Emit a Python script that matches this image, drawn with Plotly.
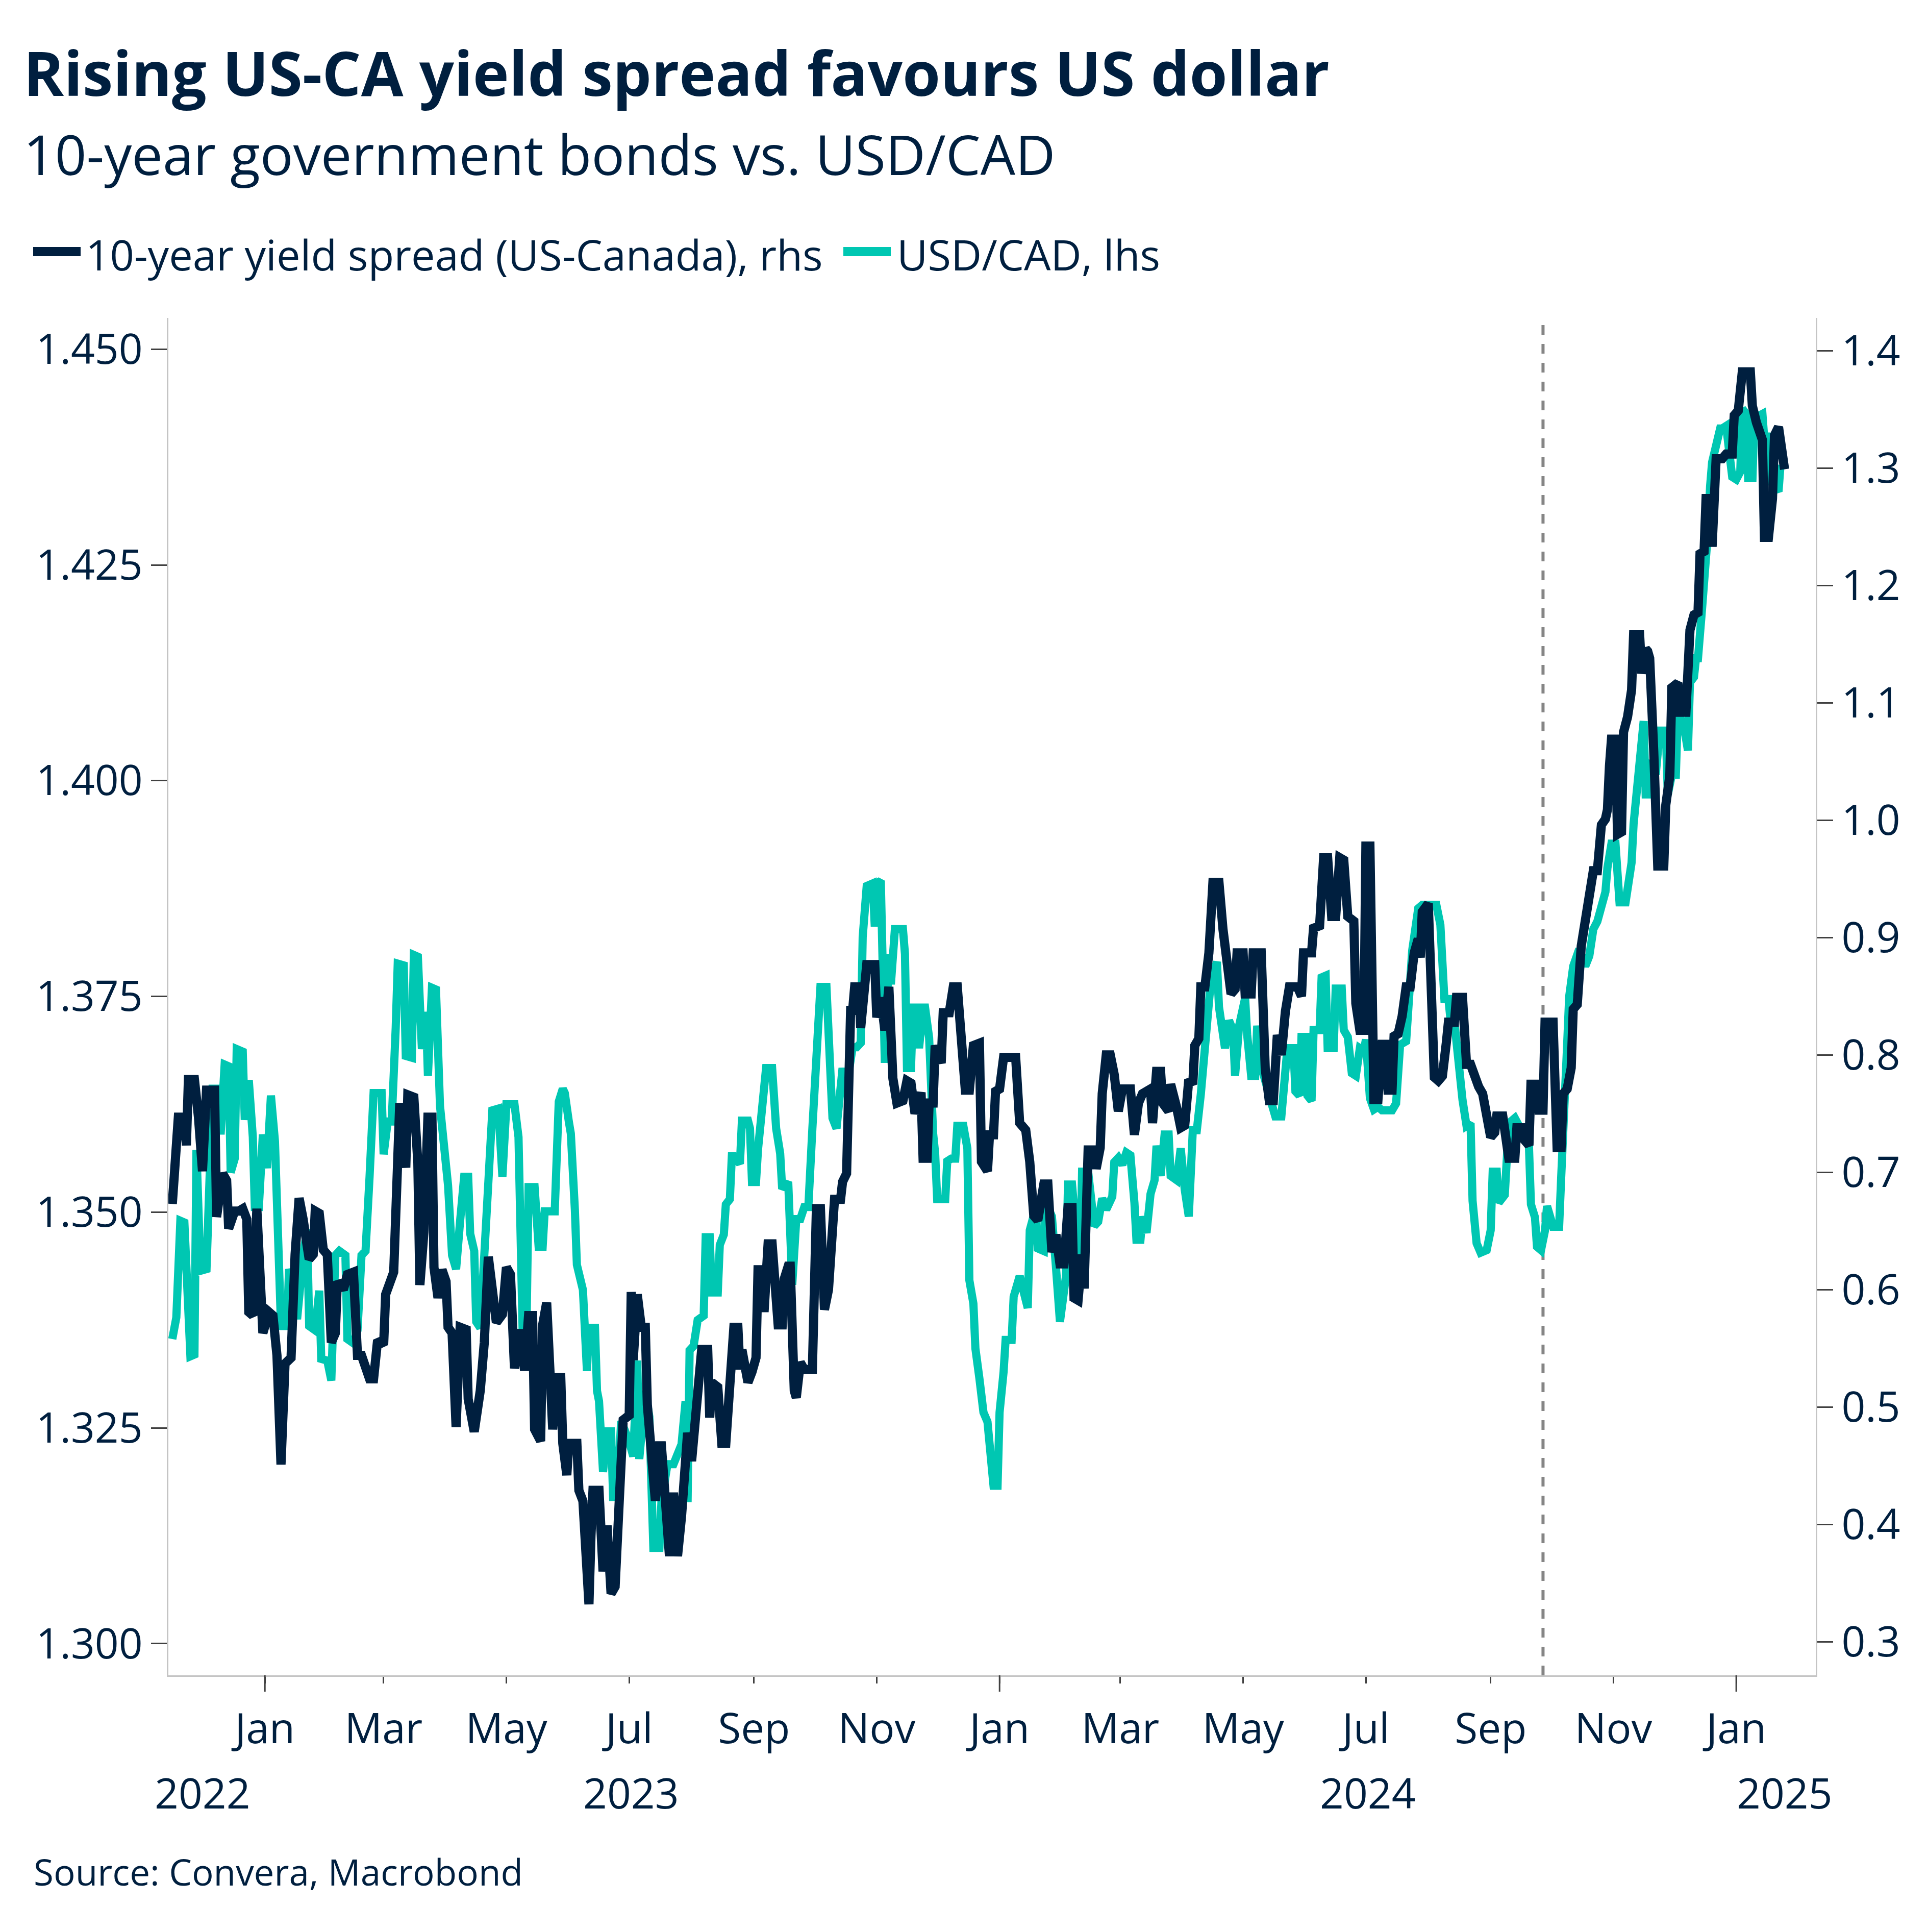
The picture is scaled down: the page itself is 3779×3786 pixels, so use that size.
import plotly.graph_objects as go

# USD/CAD, left axis
usdcad_dates = [
    "2022-11-16", "2022-11-18", "2022-11-20", "2022-11-22", "2022-11-25", "2022-11-27", "2022-11-28", "2022-11-30",
    "2022-12-03", "2022-12-06", "2022-12-09", "2022-12-10", "2022-12-12", "2022-12-14", "2022-12-15", "2022-12-17",
    "2022-12-18", "2022-12-21", "2022-12-22", "2022-12-24", "2022-12-26", "2022-12-27", "2022-12-29", "2022-12-31",
    "2023-01-02", "2023-01-04", "2023-01-06", "2023-01-07", "2023-01-09", "2023-01-12", "2023-01-13", "2023-01-15",
    "2023-01-17", "2023-01-20", "2023-01-22", "2023-01-23", "2023-01-26", "2023-01-28", "2023-01-29", "2023-02-01",
    "2023-02-03", "2023-02-05", "2023-02-07", "2023-02-10", "2023-02-11", "2023-02-14", "2023-02-16", "2023-02-18",
    "2023-02-20", "2023-02-22", "2023-02-24", "2023-02-28", "2023-03-01", "2023-03-03", "2023-03-05", "2023-03-07",
    "2023-03-08", "2023-03-11", "2023-03-12", "2023-03-15", "2023-03-16", "2023-03-18", "2023-03-19", "2023-03-20",
    "2023-03-22", "2023-03-23", "2023-03-25", "2023-03-27", "2023-03-29", "2023-03-31", "2023-04-02", "2023-04-04",
    "2023-04-06", "2023-04-08", "2023-04-10", "2023-04-12", "2023-04-13", "2023-04-15", "2023-04-16", "2023-04-18",
    "2023-04-20", "2023-04-22", "2023-04-24", "2023-04-27", "2023-04-29", "2023-05-01", "2023-05-05", "2023-05-07",
    "2023-05-09", "2023-05-11", "2023-05-12", "2023-05-15", "2023-05-17", "2023-05-19", "2023-05-20", "2023-05-25",
    "2023-05-27", "2023-05-29", "2023-05-30", "2023-06-01", "2023-06-02", "2023-06-04", "2023-06-05", "2023-06-08",
    "2023-06-09", "2023-06-10", "2023-06-11", "2023-06-14", "2023-06-15", "2023-06-16", "2023-06-18", "2023-06-20",
    "2023-06-22", "2023-06-23", "2023-06-25", "2023-06-27", "2023-07-01", "2023-07-03", "2023-07-05", "2023-07-06",
    "2023-07-09", "2023-07-11", "2023-07-13", "2023-07-16", "2023-07-17", "2023-07-20", "2023-07-23", "2023-07-25",
    "2023-07-27", "2023-07-29", "2023-07-30", "2023-07-31", "2023-08-02", "2023-08-04", "2023-08-07", "2023-08-08",
    "2023-08-10", "2023-08-11", "2023-08-14", "2023-08-15", "2023-08-17", "2023-08-18", "2023-08-20", "2023-08-21",
    "2023-08-22", "2023-08-25", "2023-08-26", "2023-08-29", "2023-08-30", "2023-08-31", "2023-09-02", "2023-09-03",
    "2023-09-05", "2023-09-07", "2023-09-10", "2023-09-12", "2023-09-14", "2023-09-15", "2023-09-18", "2023-09-19",
    "2023-09-20", "2023-09-22", "2023-09-24", "2023-09-26", "2023-09-28", "2023-09-30", "2023-10-02", "2023-10-04",
    "2023-10-07", "2023-10-09", "2023-10-10", "2023-10-12", "2023-10-14", "2023-10-15", "2023-10-16", "2023-10-18",
    "2023-10-20", "2023-10-22", "2023-10-24", "2023-10-25", "2023-10-27", "2023-10-30", "2023-10-31", "2023-11-01",
    "2023-11-03", "2023-11-04", "2023-11-05", "2023-11-07", "2023-11-08", "2023-11-10", "2023-11-14", "2023-11-15",
    "2023-11-16", "2023-11-18", "2023-11-19", "2023-11-21", "2023-11-22", "2023-11-24", "2023-11-25", "2023-11-27",
    "2023-11-28", "2023-11-29", "2023-11-30", "2023-12-01", "2023-12-05", "2023-12-06", "2023-12-08", "2023-12-10",
    "2023-12-11", "2023-12-14", "2023-12-16", "2023-12-17", "2023-12-19", "2023-12-20", "2023-12-22", "2023-12-24",
    "2023-12-26", "2023-12-28", "2023-12-29", "2023-12-31", "2024-01-01", "2024-01-03", "2024-01-04", "2024-01-07",
    "2024-01-08", "2024-01-11", "2024-01-15", "2024-01-16", "2024-01-19", "2024-01-20", "2024-01-23", "2024-01-24",
    "2024-01-27", "2024-01-29", "2024-01-31", "2024-02-03", "2024-02-04", "2024-02-06", "2024-02-08", "2024-02-10",
    "2024-02-11", "2024-02-14", "2024-02-17", "2024-02-19", "2024-02-21", "2024-02-23", "2024-02-26", "2024-02-27",
    "2024-02-29", "2024-03-02", "2024-03-04", "2024-03-06", "2024-03-08", "2024-03-09", "2024-03-11", "2024-03-12",
    "2024-03-14", "2024-03-16", "2024-03-18", "2024-03-19", "2024-03-21", "2024-03-23", "2024-03-25", "2024-03-26",
    "2024-03-29", "2024-03-31", "2024-04-02", "2024-04-04", "2024-04-06", "2024-04-08", "2024-04-10", "2024-04-12",
    "2024-04-13", "2024-04-15", "2024-04-18", "2024-04-19", "2024-04-22", "2024-04-24", "2024-04-26", "2024-04-27",
    "2024-04-29", "2024-05-02", "2024-05-03", "2024-05-05", "2024-05-07", "2024-05-08", "2024-05-10", "2024-05-12",
    "2024-05-15", "2024-05-17", "2024-05-20", "2024-05-23", "2024-05-26", "2024-05-27", "2024-05-29", "2024-05-30",
    "2024-06-01", "2024-06-02", "2024-06-04", "2024-06-05", "2024-06-08", "2024-06-09", "2024-06-11", "2024-06-12",
    "2024-06-15", "2024-06-16", "2024-06-19", "2024-06-20", "2024-06-22", "2024-06-24", "2024-06-26", "2024-06-28",
    "2024-06-30", "2024-07-01", "2024-07-03", "2024-07-05", "2024-07-07", "2024-07-09", "2024-07-14", "2024-07-16",
    "2024-07-18", "2024-07-21", "2024-07-22", "2024-07-24", "2024-07-27", "2024-07-29", "2024-08-02", "2024-08-05",
    "2024-08-07", "2024-08-08", "2024-08-09", "2024-08-11", "2024-08-12", "2024-08-14", "2024-08-15", "2024-08-17",
    "2024-08-18", "2024-08-20", "2024-08-22", "2024-08-23", "2024-08-25", "2024-08-27", "2024-08-30", "2024-09-01",
    "2024-09-02", "2024-09-04", "2024-09-05", "2024-09-08", "2024-09-09", "2024-09-10", "2024-09-13", "2024-09-16",
    "2024-09-18", "2024-09-20", "2024-09-21", "2024-09-23", "2024-09-24", "2024-09-26", "2024-09-28", "2024-09-29",
    "2024-10-02", "2024-10-05", "2024-10-06", "2024-10-07", "2024-10-09", "2024-10-10", "2024-10-12", "2024-10-15",
    "2024-10-18", "2024-10-20", "2024-10-22", "2024-10-24", "2024-10-26", "2024-10-28", "2024-10-29", "2024-10-31",
    "2024-11-02", "2024-11-04", "2024-11-07", "2024-11-08", "2024-11-10", "2024-11-11", "2024-11-13", "2024-11-15",
    "2024-11-16", "2024-11-17", "2024-11-19", "2024-11-20", "2024-11-22", "2024-11-24", "2024-11-27", "2024-11-28",
    "2024-11-30", "2024-12-02", "2024-12-03", "2024-12-06", "2024-12-08", "2024-12-09", "2024-12-11", "2024-12-12",
    "2024-12-13", "2024-12-15", "2024-12-16", "2024-12-17", "2024-12-18", "2024-12-19", "2024-12-20", "2024-12-24",
    "2024-12-25", "2024-12-27", "2024-12-29", "2024-12-30", "2025-01-01", "2025-01-03", "2025-01-04", "2025-01-06",
    "2025-01-07", "2025-01-08", "2025-01-09", "2025-01-10", "2025-01-14", "2025-01-15", "2025-01-16", "2025-01-18",
    "2025-01-20", "2025-01-21", "2025-01-22", "2025-01-23",
]
usdcad = [
    1.3353, 1.3378, 1.3490, 1.3488, 1.3333, 1.3335, 1.3572, 1.3432,
    1.3434, 1.3643, 1.3643, 1.3590, 1.3671, 1.3669, 1.3546, 1.3562,
    1.3689, 1.3686, 1.3607, 1.3653, 1.3587, 1.3506, 1.3506, 1.3590,
    1.3551, 1.3635, 1.3582, 1.3526, 1.3368, 1.3368, 1.3434, 1.3419,
    1.3376, 1.3450, 1.3480, 1.3368, 1.3363, 1.3409, 1.3330, 1.3328,
    1.3305, 1.3450, 1.3455, 1.3450, 1.3353, 1.3348, 1.3363, 1.3450,
    1.3455, 1.3541, 1.3638, 1.3638, 1.3567, 1.3605, 1.3605, 1.3714,
    1.3788, 1.3786, 1.3681, 1.3679, 1.3798, 1.3796, 1.3755, 1.3689,
    1.3732, 1.3658, 1.3760, 1.3758, 1.3623, 1.3577, 1.3531, 1.3450,
    1.3434, 1.3490, 1.3541, 1.3541, 1.3475, 1.3455, 1.3373, 1.3366,
    1.3440, 1.3536, 1.3618, 1.3620, 1.3541, 1.3625, 1.3625, 1.3587,
    1.3368, 1.3368, 1.3529, 1.3529, 1.3460, 1.3460, 1.3501, 1.3501,
    1.3628, 1.3643, 1.3638, 1.3605, 1.3591, 1.3503, 1.3439, 1.3410,
    1.3363, 1.3316, 1.3366, 1.3366, 1.3293, 1.3281, 1.3199, 1.3246,
    1.3246, 1.3170, 1.3170, 1.3258, 1.3234, 1.3217, 1.3328, 1.3214,
    1.3293, 1.3263, 1.3111, 1.3111, 1.3164, 1.3208, 1.3208, 1.3217,
    1.3231, 1.3281, 1.3164, 1.3340, 1.3345, 1.3375, 1.3380, 1.3471,
    1.3471, 1.3407, 1.3407, 1.3462, 1.3474, 1.3509, 1.3515, 1.3565,
    1.3565, 1.3556, 1.3606, 1.3606, 1.3597, 1.3535, 1.3535, 1.3573,
    1.3620, 1.3667, 1.3667, 1.3597, 1.3568, 1.3527, 1.3535, 1.3457,
    1.3416, 1.3492, 1.3492, 1.3506, 1.3506, 1.3597, 1.3685, 1.3761,
    1.3761, 1.3679, 1.3609, 1.3597, 1.3664, 1.3667, 1.3650, 1.3661,
    1.3691, 1.3691, 1.3696, 1.3819, 1.3878, 1.3881, 1.3831, 1.3881,
    1.3884, 1.3749, 1.3673, 1.3799, 1.3764, 1.3828, 1.3828, 1.3799,
    1.3667, 1.3667, 1.3737, 1.3737, 1.3690, 1.3737, 1.3737, 1.3702,
    1.3591, 1.3591, 1.3568, 1.3515, 1.3515, 1.3559, 1.3562, 1.3562,
    1.3600, 1.3600, 1.3574, 1.3421, 1.3394, 1.3342, 1.3307, 1.3268,
    1.3257, 1.3210, 1.3183, 1.3183, 1.3268, 1.3315, 1.3352, 1.3352,
    1.3402, 1.3426, 1.3389, 1.3479, 1.3505, 1.3458, 1.3455, 1.3511,
    1.3495, 1.3437, 1.3373, 1.3426, 1.3532, 1.3532, 1.3489, 1.3426,
    1.3547, 1.3547, 1.3484, 1.3489, 1.3516, 1.3503, 1.3518, 1.3558,
    1.3563, 1.3555, 1.3569, 1.3566, 1.3511, 1.3468, 1.3468, 1.3495,
    1.3476, 1.3521, 1.3537, 1.3577, 1.3542, 1.3590, 1.3590, 1.3542,
    1.3537, 1.3574, 1.3526, 1.3495, 1.3595, 1.3595, 1.3637, 1.3690,
    1.3716, 1.3769, 1.3790, 1.3738, 1.3690, 1.3722, 1.3711, 1.3658,
    1.3716, 1.3748, 1.3706, 1.3658, 1.3658, 1.3716, 1.3669, 1.3648,
    1.3627, 1.3611, 1.3611, 1.3690, 1.3690, 1.3640, 1.3635, 1.3703,
    1.3703, 1.3635, 1.3629, 1.3711, 1.3711, 1.3772, 1.3774, 1.3690,
    1.3690, 1.3759, 1.3759, 1.3711, 1.3703, 1.3661, 1.3658, 1.3690,
    1.3687, 1.3700, 1.3632, 1.3619, 1.3622, 1.3618, 1.3618, 1.3626,
    1.3694, 1.3698, 1.3735, 1.3803, 1.3852, 1.3856, 1.3856, 1.3856,
    1.3833, 1.3803, 1.3747, 1.3747, 1.3724, 1.3720, 1.3698, 1.3641,
    1.3630, 1.3600, 1.3603, 1.3513, 1.3464, 1.3453, 1.3456, 1.3479,
    1.3547, 1.3547, 1.3511, 1.3520, 1.3558, 1.3603, 1.3609, 1.3596,
    1.3596, 1.3577, 1.3509, 1.3494, 1.3460, 1.3456, 1.3479, 1.3507,
    1.3483, 1.3483, 1.3539, 1.3615, 1.3695, 1.3750, 1.3785, 1.3805,
    1.3785, 1.3797, 1.3828, 1.3837, 1.3859, 1.3871, 1.3899, 1.3927,
    1.3927, 1.3859, 1.3859, 1.3876, 1.3905, 1.3950, 1.4007, 1.4069,
    1.4069, 1.3984, 1.3984, 1.4024, 1.4007, 1.4058, 1.4058, 1.3984,
    1.4007, 1.4007, 1.4080, 1.4063, 1.4035, 1.4114, 1.4120, 1.4142,
    1.4142, 1.4199, 1.4230, 1.4230, 1.4290, 1.4341, 1.4369, 1.4408,
    1.4408, 1.4411, 1.4380, 1.4352, 1.4349, 1.4358, 1.4431, 1.4425,
    1.4346, 1.4403, 1.4346, 1.4420, 1.4425, 1.4394, 1.4403, 1.4346,
    1.4341, 1.4335, 1.4335, 1.4366,
]

# 10-year yield spread US minus Canada (percentage points), right axis
spread_dates = [
    "2022-11-16", "2022-11-19", "2022-11-22", "2022-11-23", "2022-11-24", "2022-11-27", "2022-11-29", "2022-12-01",
    "2022-12-03", "2022-12-07", "2022-12-08", "2022-12-11", "2022-12-13", "2022-12-14", "2022-12-17", "2022-12-19",
    "2022-12-21", "2022-12-23", "2022-12-24", "2022-12-26", "2022-12-28", "2022-12-30", "2022-12-31", "2023-01-03",
    "2023-01-05", "2023-01-07", "2023-01-09", "2023-01-11", "2023-01-14", "2023-01-16", "2023-01-18", "2023-01-20",
    "2023-01-22", "2023-01-23", "2023-01-25", "2023-01-26", "2023-01-28", "2023-01-30", "2023-02-01", "2023-02-03",
    "2023-02-05", "2023-02-06", "2023-02-09", "2023-02-11", "2023-02-14", "2023-02-16", "2023-02-18", "2023-02-22",
    "2023-02-24", "2023-02-26", "2023-03-01", "2023-03-02", "2023-03-06", "2023-03-08", "2023-03-09", "2023-03-12",
    "2023-03-13", "2023-03-16", "2023-03-18", "2023-03-19", "2023-03-21", "2023-03-23", "2023-03-25", "2023-03-26",
    "2023-03-28", "2023-03-30", "2023-04-01", "2023-04-02", "2023-04-04", "2023-04-06", "2023-04-08", "2023-04-11",
    "2023-04-12", "2023-04-15", "2023-04-18", "2023-04-20", "2023-04-22", "2023-04-24", "2023-04-26", "2023-04-29",
    "2023-05-01", "2023-05-03", "2023-05-05", "2023-05-08", "2023-05-10", "2023-05-12", "2023-05-14", "2023-05-15",
    "2023-05-18", "2023-05-19", "2023-05-21", "2023-05-24", "2023-05-26", "2023-05-28", "2023-05-29", "2023-05-31",
    "2023-06-01", "2023-06-05", "2023-06-06", "2023-06-08", "2023-06-10", "2023-06-11", "2023-06-12", "2023-06-13",
    "2023-06-16", "2023-06-18", "2023-06-20", "2023-06-22", "2023-06-24", "2023-06-26", "2023-06-28", "2023-07-01",
    "2023-07-02", "2023-07-03", "2023-07-05", "2023-07-07", "2023-07-09", "2023-07-10", "2023-07-12", "2023-07-14",
    "2023-07-16", "2023-07-17", "2023-07-19", "2023-07-21", "2023-07-23", "2023-07-25", "2023-07-27", "2023-07-30",
    "2023-08-01", "2023-08-03", "2023-08-06", "2023-08-09", "2023-08-10", "2023-08-11", "2023-08-14", "2023-08-16",
    "2023-08-18", "2023-08-20", "2023-08-22", "2023-08-24", "2023-08-25", "2023-08-26", "2023-08-29", "2023-08-31",
    "2023-09-02", "2023-09-03", "2023-09-05", "2023-09-06", "2023-09-08", "2023-09-10", "2023-09-12", "2023-09-13",
    "2023-09-15", "2023-09-16", "2023-09-18", "2023-09-19", "2023-09-21", "2023-09-22", "2023-09-24", "2023-09-26",
    "2023-09-30", "2023-10-02", "2023-10-04", "2023-10-06", "2023-10-08", "2023-10-10", "2023-10-11", "2023-10-14",
    "2023-10-15", "2023-10-17", "2023-10-18", "2023-10-19", "2023-10-20", "2023-10-21", "2023-10-23", "2023-10-24",
    "2023-10-27", "2023-10-31", "2023-11-01", "2023-11-03", "2023-11-05", "2023-11-07", "2023-11-09", "2023-11-11",
    "2023-11-14", "2023-11-16", "2023-11-18", "2023-11-20", "2023-11-23", "2023-11-24", "2023-11-26", "2023-11-27",
    "2023-11-29", "2023-11-30", "2023-12-03", "2023-12-04", "2023-12-07", "2023-12-09", "2023-12-11", "2023-12-13",
    "2023-12-15", "2023-12-17", "2023-12-19", "2023-12-22", "2023-12-23", "2023-12-26", "2023-12-27", "2023-12-29",
    "2023-12-30", "2024-01-01", "2024-01-03", "2024-01-07", "2024-01-09", "2024-01-11", "2024-01-14", "2024-01-16",
    "2024-01-18", "2024-01-20", "2024-01-23", "2024-01-25", "2024-01-27", "2024-01-29", "2024-01-31", "2024-02-02",
    "2024-02-04", "2024-02-06", "2024-02-07", "2024-02-09", "2024-02-11", "2024-02-12", "2024-02-14", "2024-02-17",
    "2024-02-18", "2024-02-20", "2024-02-21", "2024-02-23", "2024-02-25", "2024-02-27", "2024-02-29", "2024-03-02",
    "2024-03-06", "2024-03-08", "2024-03-10", "2024-03-12", "2024-03-16", "2024-03-17", "2024-03-19", "2024-03-21",
    "2024-03-22", "2024-03-25", "2024-03-26", "2024-03-29", "2024-03-31", "2024-04-02", "2024-04-04", "2024-04-06",
    "2024-04-07", "2024-04-09", "2024-04-10", "2024-04-12", "2024-04-14", "2024-04-16", "2024-04-19", "2024-04-21",
    "2024-04-23", "2024-04-25", "2024-04-27", "2024-04-28", "2024-05-01", "2024-05-02", "2024-05-05", "2024-05-06",
    "2024-05-10", "2024-05-11", "2024-05-12", "2024-05-14", "2024-05-16", "2024-05-18", "2024-05-20", "2024-05-22",
    "2024-05-24", "2024-05-28", "2024-05-30", "2024-05-31", "2024-06-04", "2024-06-05", "2024-06-08", "2024-06-10",
    "2024-06-12", "2024-06-14", "2024-06-16", "2024-06-18", "2024-06-20", "2024-06-22", "2024-06-25", "2024-06-26",
    "2024-06-28", "2024-06-30", "2024-07-01", "2024-07-03", "2024-07-04", "2024-07-05", "2024-07-07", "2024-07-09",
    "2024-07-11", "2024-07-12", "2024-07-14", "2024-07-15", "2024-07-17", "2024-07-19", "2024-07-21", "2024-07-23",
    "2024-07-25", "2024-07-27", "2024-07-28", "2024-07-29", "2024-08-01", "2024-08-03", "2024-08-04", "2024-08-06",
    "2024-08-08", "2024-08-10", "2024-08-11", "2024-08-14", "2024-08-15", "2024-08-18", "2024-08-19", "2024-08-20",
    "2024-08-22", "2024-08-23", "2024-08-24", "2024-08-26", "2024-08-28", "2024-08-30", "2024-09-01", "2024-09-03",
    "2024-09-04", "2024-09-07", "2024-09-08", "2024-09-10", "2024-09-13", "2024-09-14", "2024-09-17", "2024-09-18",
    "2024-09-20", "2024-09-21", "2024-09-24", "2024-09-25", "2024-09-27", "2024-09-28", "2024-10-02", "2024-10-03",
    "2024-10-04", "2024-10-06", "2024-10-07", "2024-10-09", "2024-10-11", "2024-10-12", "2024-10-14", "2024-10-16",
    "2024-10-18", "2024-10-20", "2024-10-22", "2024-10-24", "2024-10-26", "2024-10-28", "2024-10-29", "2024-10-30",
    "2024-10-31", "2024-11-02", "2024-11-03", "2024-11-05", "2024-11-06", "2024-11-08", "2024-11-09", "2024-11-10",
    "2024-11-11", "2024-11-14", "2024-11-15", "2024-11-17", "2024-11-18", "2024-11-19", "2024-11-21", "2024-11-23",
    "2024-11-26", "2024-11-27", "2024-11-29", "2024-11-30", "2024-12-03", "2024-12-04", "2024-12-07", "2024-12-08",
    "2024-12-09", "2024-12-11", "2024-12-13", "2024-12-14", "2024-12-16", "2024-12-17", "2024-12-19", "2024-12-20",
    "2024-12-22", "2024-12-25", "2024-12-27", "2024-12-30", "2024-12-31", "2025-01-02", "2025-01-04", "2025-01-08",
    "2025-01-09", "2025-01-11", "2025-01-14", "2025-01-15", "2025-01-17", "2025-01-19", "2025-01-20", "2025-01-22",
    "2025-01-25",
]
spread = [
    0.673, 0.747, 0.747, 0.723, 0.779, 0.779, 0.747, 0.701,
    0.770, 0.770, 0.662, 0.699, 0.693, 0.652, 0.667, 0.667,
    0.669, 0.660, 0.581, 0.578, 0.669, 0.585, 0.563, 0.581,
    0.578, 0.544, 0.451, 0.537, 0.542, 0.630, 0.678, 0.660,
    0.641, 0.626, 0.630, 0.667, 0.665, 0.634, 0.630, 0.555,
    0.563, 0.607, 0.600, 0.613, 0.615, 0.544, 0.544, 0.524,
    0.524, 0.557, 0.553, 0.596, 0.615, 0.704, 0.759, 0.704,
    0.766, 0.764, 0.708, 0.604, 0.649, 0.747, 0.747, 0.619,
    0.593, 0.617, 0.607, 0.568, 0.563, 0.483, 0.568, 0.566,
    0.507, 0.479, 0.514, 0.555, 0.628, 0.600, 0.572, 0.579,
    0.619, 0.613, 0.533, 0.566, 0.531, 0.578, 0.578, 0.481,
    0.471, 0.570, 0.589, 0.481, 0.525, 0.525, 0.469, 0.442,
    0.469, 0.469, 0.429, 0.420, 0.334, 0.332, 0.390, 0.429,
    0.429, 0.360, 0.399, 0.341, 0.347, 0.420, 0.489, 0.493,
    0.598, 0.540, 0.596, 0.568, 0.568, 0.502, 0.463, 0.420,
    0.467, 0.467, 0.420, 0.373, 0.427, 0.373, 0.407, 0.478,
    0.454, 0.502, 0.549, 0.549, 0.491, 0.521, 0.517, 0.469,
    0.469, 0.519, 0.568, 0.568, 0.532, 0.549, 0.521, 0.530,
    0.542, 0.617, 0.617, 0.581, 0.639, 0.639, 0.592, 0.570,
    0.570, 0.609, 0.620, 0.620, 0.514, 0.508, 0.538, 0.532,
    0.532, 0.669, 0.669, 0.583, 0.600, 0.641, 0.677, 0.677,
    0.692, 0.699, 0.806, 0.838, 0.838, 0.858, 0.858, 0.823,
    0.877, 0.877, 0.832, 0.849, 0.821, 0.858, 0.780, 0.759,
    0.761, 0.778, 0.776, 0.750, 0.768, 0.712, 0.712, 0.759,
    0.759, 0.808, 0.793, 0.836, 0.836, 0.858, 0.858, 0.808,
    0.770, 0.770, 0.808, 0.810, 0.709, 0.701, 0.732, 0.732,
    0.769, 0.771, 0.798, 0.798, 0.798, 0.742, 0.736, 0.709,
    0.663, 0.659, 0.690, 0.690, 0.632, 0.647, 0.622, 0.622,
    0.670, 0.670, 0.593, 0.591, 0.630, 0.601, 0.719, 0.719,
    0.703, 0.721, 0.767, 0.800, 0.800, 0.783, 0.752, 0.771,
    0.771, 0.732, 0.759, 0.767, 0.771, 0.742, 0.786, 0.786,
    0.759, 0.752, 0.775, 0.755, 0.738, 0.740, 0.779, 0.775,
    0.808, 0.814, 0.858, 0.858, 0.887, 0.947, 0.947, 0.907,
    0.879, 0.852, 0.856, 0.887, 0.887, 0.852, 0.852, 0.887,
    0.887, 0.837, 0.788, 0.761, 0.761, 0.817, 0.800, 0.837,
    0.858, 0.858, 0.850, 0.887, 0.887, 0.908, 0.910, 0.968,
    0.968, 0.918, 0.918, 0.968, 0.966, 0.918, 0.914, 0.844,
    0.821, 0.821, 0.978, 0.978, 0.821, 0.762, 0.762, 0.809,
    0.809, 0.770, 0.770, 0.816, 0.818, 0.833, 0.858, 0.858,
    0.887, 0.899, 0.883, 0.922, 0.929, 0.800, 0.781, 0.778,
    0.782, 0.811, 0.828, 0.828, 0.849, 0.849, 0.809, 0.792,
    0.792, 0.786, 0.778, 0.773, 0.767, 0.748, 0.730, 0.734,
    0.748, 0.748, 0.731, 0.712, 0.712, 0.738, 0.738, 0.727,
    0.723, 0.775, 0.775, 0.753, 0.753, 0.828, 0.828, 0.748,
    0.721, 0.721, 0.767, 0.771, 0.789, 0.839, 0.843, 0.893,
    0.916, 0.941, 0.957, 0.957, 0.996, 1.001, 1.009, 1.046,
    1.069, 1.069, 0.988, 0.990, 1.075, 1.088, 1.108, 1.111,
    1.158, 1.158, 1.125, 1.146, 1.144, 1.138, 1.059, 0.961,
    0.961, 1.013, 1.038, 1.113, 1.117, 1.092, 1.092, 1.154,
    1.162, 1.175, 1.177, 1.227, 1.229, 1.274, 1.274, 1.233,
    1.308, 1.308, 1.312, 1.312, 1.345, 1.349, 1.382, 1.382,
    1.353, 1.339, 1.324, 1.241, 1.241, 1.274, 1.328, 1.335,
    1.299,
]

tick_dates = ["2023-01-01", "2023-03-01", "2023-05-01", "2023-07-01", "2023-09-01", "2023-11-01",
              "2024-01-01", "2024-03-01", "2024-05-01", "2024-07-01", "2024-09-01", "2024-11-01",
              "2025-01-01"]
tick_labels = ["Jan", "Mar", "May", "Jul", "Sep", "Nov", "Jan", "Mar", "May", "Jul", "Sep", "Nov", "Jan"]
jan_dates = ["2023-01-01", "2024-01-01", "2025-01-01"]
year_labels = ["2022", "2023", "2024", "2025"]
year_dates = ["2022-12-01", "2023-07-02", "2024-07-02", "2025-01-25"]
marker_date = "2024-09-27"

NAVY = "#001f3f"
TEAL = "#00c7b2"
FONT = "Open Sans"

W, H = 3779, 3786
PL, PR, PT, PB = 322, 3551, 615, 3275   # plot area edges in pixels


def px_x(x):
    return (x - PL) / (PR - PL)


def px_y(y):
    return (PB - y) / (PB - PT)


fig = go.Figure()
fig.add_trace(go.Scatter(x=usdcad_dates, y=usdcad, mode="lines", name="USD/CAD, lhs",
                         line=dict(color=TEAL, width=16), yaxis="y"))
fig.add_trace(go.Scatter(x=spread_dates, y=spread, mode="lines",
                         name="10-year yield spread (US-Canada), rhs",
                         line=dict(color=NAVY, width=18), yaxis="y2"))

axis_common = dict(showgrid=False, zeroline=False, showline=True, linecolor="#c4c4c4", linewidth=3,
                   ticks="outside", tickcolor="#404040", tickwidth=3,
                   tickfont=dict(family=FONT, size=82, color=NAVY))

fig.update_layout(
    width=W, height=H,
    margin=dict(l=PL, r=W - PR, t=PT, b=H - PB, autoexpand=False),
    paper_bgcolor="white", plot_bgcolor="white",
    showlegend=False,
    xaxis=dict(type="date", range=["2022-11-14 01:00", "2025-02-09 12:00"],
               tickvals=tick_dates, ticktext=tick_labels, ticklen=13, ticklabelstandoff=19,
               **axis_common),
    yaxis=dict(range=[1.29633, 1.45362], tick0=1.3, dtick=0.025, tickformat=".3f",
               ticklen=31, **axis_common),
    yaxis2=dict(range=[0.27143, 1.42796], tick0=0.3, dtick=0.1, tickformat=".1f",
                ticklen=31, overlaying="y", side="right", **axis_common),
)

# dashed marker line
fig.add_shape(type="line", xref="x", yref="paper", x0=marker_date, x1=marker_date, y0=0, y1=1,
              line=dict(color="#858585", width=6, dash="19px,18px"), layer="below")

# longer ticks at year starts
for d in jan_dates:
    fig.add_shape(type="line", xref="x", yref="paper", x0=d, x1=d, y0=0, y1=-32 / (PB - PT),
                  line=dict(color="#404040", width=3))

for label, d in zip(year_labels, year_dates):
    fig.add_annotation(text=label, x=d, xref="x", y=px_y(3504), yref="paper",
                       xanchor="center", yanchor="middle", showarrow=False,
                       font=dict(family=FONT, size=82, color=NAVY))

# title, subtitle, source
fig.add_annotation(text="Rising US-CA yield spread favours US dollar", x=px_x(36), y=px_y(133),
                   xref="paper", yref="paper", xanchor="left", yanchor="middle", showarrow=False,
                   font=dict(family=FONT, size=120, color=NAVY, weight=700))
fig.add_annotation(text="10-year government bonds vs. USD/CAD", x=px_x(36), y=px_y(294),
                   xref="paper", yref="paper", xanchor="left", yanchor="middle", showarrow=False,
                   font=dict(family=FONT, size=108, color=NAVY))
fig.add_annotation(text="Source: Convera, Macrobond", x=px_x(56), y=px_y(3659),
                   xref="paper", yref="paper", xanchor="left", yanchor="middle", showarrow=False,
                   font=dict(family=FONT, size=71, color=NAVY))

# legend drawn by hand: thick swatch + label
legend_items = [(NAVY, "10-year yield spread (US-Canada), rhs", 57, 150, 158),
                (TEAL, "USD/CAD, lhs", 1645, 1738, 1748)]
for color, text, x0, x1, tx in legend_items:
    fig.add_shape(type="rect", xref="paper", yref="paper", x0=px_x(x0), x1=px_x(x1),
                  y0=px_y(494), y1=px_y(476), fillcolor=color, line=dict(width=0))
    fig.add_annotation(text=text, x=px_x(tx), y=px_y(489), xref="paper", yref="paper",
                       xanchor="left", yanchor="middle", showarrow=False,
                       font=dict(family=FONT, size=83, color=NAVY))

fig.write_html("out.html")
